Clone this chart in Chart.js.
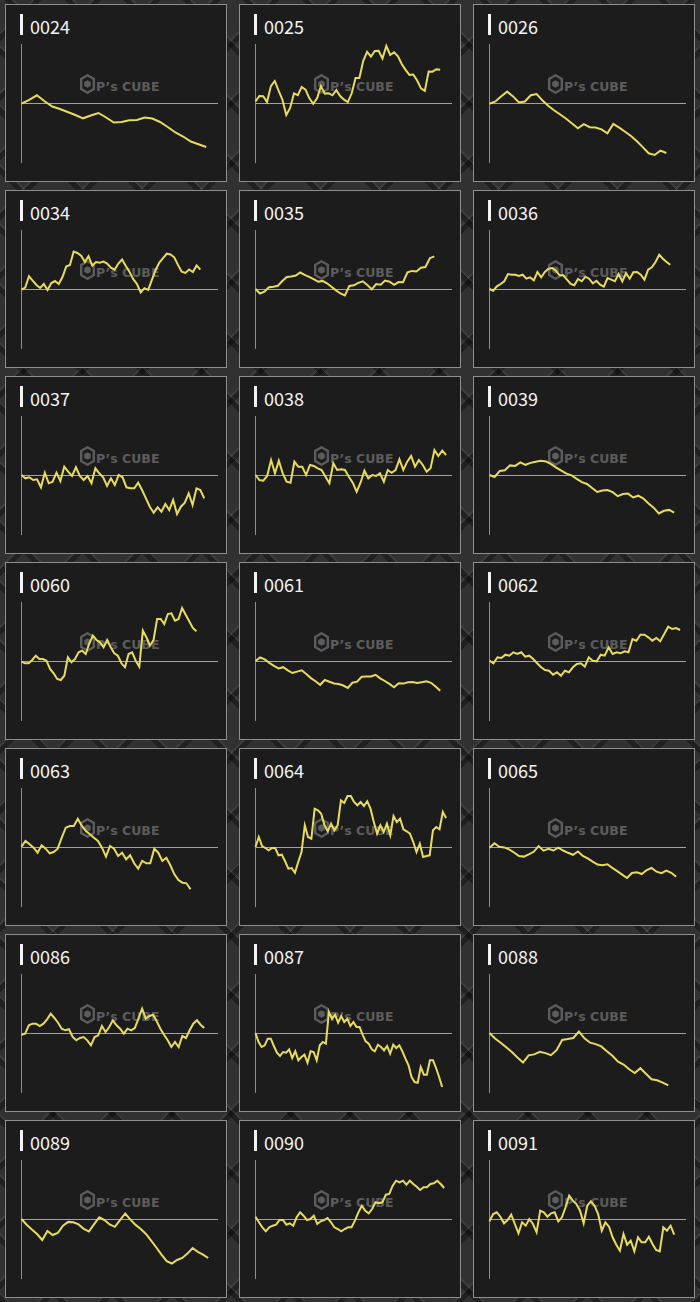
<!DOCTYPE html>
<html>
<head>
<meta charset="utf-8">
<script src="https://cdn.jsdelivr.net/npm/chart.js@4.4.1/dist/chart.umd.min.js"></script>
<style>
  html, body { margin: 0; padding: 0; }
  body {
    width: 700px; height: 1302px; position: relative; overflow: hidden;
    background-color: #313131;
    background-image:
      repeating-linear-gradient(45deg, rgba(0,0,0,.35) 0 5px, rgba(255,255,255,.05) 5px 7px, transparent 7px 42px),
      repeating-linear-gradient(-45deg, rgba(0,0,0,.35) 0 5px, rgba(255,255,255,.05) 5px 7px, transparent 7px 42px);
  }
  .panel {
    position: absolute; width: 220px; height: 176px;
    background: #1c1c1c; border: 1px solid #8f8f8f;
  }
  .title {
    position: absolute; left: 24px; top: 11.5px;
    font: 18px/18px "Noto Sans CJK JP", "Noto Sans", sans-serif; color: #f4f4f4;
  }
  .title::before {
    content: ""; position: absolute; left: -10px; top: -3px; width: 3px; height: 21px; background: #f4f4f4;
  }
  .mark svg { position: absolute; left: 74px; top: 69px; }
  .mark span {
    position: absolute; left: 90px; top: 75.5px; white-space: nowrap;
    font: bold 12.5px/12.5px "DejaVu Sans", sans-serif; color: #5c5c5c;
  }
  .plot { position: absolute; left: 9px; top: 33px; width: 210px; height: 130px; }
</style>
</head>
<body>
<script>
// fund codes, one small chart each (3 per row)
const codes = ["0024", "0025", "0026", "0034", "0035", "0036", "0037", "0038", "0039",
  "0060", "0061", "0062", "0063", "0064", "0065", "0086", "0087", "0088", "0089", "0090", "0091"];

// change from start of period (chart units)
const s0024 = [-0.7, 3.2, 7.7, 1.7, -3.5, -6, -9, -12, -15.3, -12.5, -10, -14.5, -19.5, -19, -17.2, -17, -14.5, -15.5, -19, -24, -29.5, -33.5, -38.5, -41.3, -44];
const s0025 = [1.7, 7, 6.8, 1, 16.9, 22, 12.3, 3.3, -12, -5, 9.7, 7.9, 16.1, 13.3, 4.7, -0.8, 4.7, 16.9, 9.4, 9.8, 7.7, 12.9, 7, 3.3, 0.9, 9.7, 25, 25, 42.2, 51.2, 46.5, 52, 52.3, 44.5, 57, 48, 50.7, 46.9, 39, 33.2, 28.1, 28.5, 22.5, 14.6, 12.1, 31.5, 31.3, 33.8, 33.3];
const s0026 = [-0.7, 1.5, 6.7, 11.4, 6.6, 0.5, 1.5, 7.8, 9, 2.4, -3, -7.5, -11.5, -15.8, -20.5, -25.2, -21.1, -24.2, -24.5, -26.3, -30.3, -21, -24.7, -28.7, -33, -38.2, -44.1, -50.3, -52, -47.6, -50];
const s0034 = [-0.7, 1.5, 12.7, 8.3, 4, 1, 5, -1, 6, 8, 5, 12, 22.4, 24, 37.4, 36, 33.2, 27.2, 32.8, 23.2, 27, 26.2, 27.4, 25.5, 21.3, 19.3, 25.4, 29.5, 22.9, 17.1, 9.9, 5, -3.5, 0.8, -0.8, 9.1, 19, 26.4, 30.8, 35.3, 34.5, 31.7, 24.1, 17.3, 16.1, 19.5, 17, 23.6, 19.3];
const s0035 = [0, -4.5, -2.7, 1.7, 2.2, 3.2, 8, 12.1, 12.5, 13.4, 16.5, 14.2, 12.2, 9.8, 7.3, 8.1, 5.7, 2.2, -1.4, -4.5, -6.5, 3.1, 3.7, 6.2, 7.7, 4.1, -0.3, 4.9, 4.3, 8.4, 7.3, 4.2, 6.9, 6.8, 16.6, 18.1, 17.6, 21.3, 22, 30.8, 32.7];
const s0036 = [0, -1.7, 2.7, 5, 7.7, 15, 14.3, 14.3, 13, 14.3, 10.3, 11.7, 8.7, 17, 11.7, 17, 20.3, 21, 18.3, 13.7, 13.7, 9.3, 5, 3.7, 10, 7.7, 12.3, 10.3, 5.7, 8.3, 4.3, 2.3, 11, 9.3, 7.7, 15, 7.7, 16, 10.3, 16.7, 17, 14.3, 9.3, 19.3, 21.7, 27, 34.3, 30.3, 27, 24.3];
const s0037 = [0, -3.3, -2.3, -5, -4.3, -12.3, 2.3, -8.3, -6.7, 2.3, -6, 8.3, 3.3, -1, 7.7, -1, -5, -1, -8.3, 6.7, 1.7, -2.3, -11, -3.3, -10, 0, -2.3, -12.3, -13.3, -13.3, -7.7, -15, -23.3, -31.7, -37.7, -32.3, -36.7, -29, -35, -25, -39, -31.7, -27.7, -18.3, -30, -13.3, -15, -23.3];
const s0038 = [0, -5, -5.7, -1, 15, 1.7, 14.3, 1.7, -6.7, -7.7, 13.3, 8.3, 8.3, 0, 10, 9, 6.7, 5, -1.7, -8.3, 11.7, 5, 5.7, 5, -1.7, -7.7, -16.7, -7.7, 4.3, -3.3, 0, -1, 1.7, -6.7, 5, 2.3, 5, 15.7, 5, 13.3, 19, 8.3, 15, 10, 3.3, 6.7, 25, 19, 24.3, 20];
const s0039 = [0, -2, 4.1, 4.7, 9.6, 9.1, 12.6, 10.2, 12.1, 13.3, 14.3, 13.6, 10.9, 7.4, 4.3, 1.3, -0.4, -3.8, -7.2, -9, -13, -17, -15.6, -15.1, -17.1, -21.2, -19, -18.6, -22.5, -20.7, -23.5, -28.5, -32.6, -38.5, -35.8, -34.9, -37.7];
const s0060 = [-0.7, -2.3, -2.3, 1, 5.3, 2, 2, 0.3, -8, -12.3, -18, -19, -14.7, 3.7, -1.3, 2, 8.7, 10.3, 7, 17.7, 25.3, 21, 18.7, 13.7, 21, 13.7, 7.7, 5.3, -2.3, -6.3, 7, 8.7, 0.3, -5.7, 30.3, 23.7, 15.3, 21, 42, 42, 37, 47, 47.7, 40.3, 42, 53, 46.3, 39.7, 33, 29.7];
const s0061 = [0, 3.5, 1.6, -1.9, -4.9, -7.4, -6.2, -9.4, -12, -10.6, -9.3, -13.1, -17.1, -20.3, -23.8, -19, -20.7, -22.5, -23, -24.5, -27, -21.7, -20.7, -15.8, -15.4, -15.4, -13.8, -17.4, -20, -22.9, -26.3, -22.3, -22.6, -21.2, -21.1, -22.1, -21.2, -20.3, -21.8, -25.4, -29.7];
const s0062 = [0.3, -2.3, 3.7, 3, 6.3, 5.3, 8.7, 7, 8.7, 4.3, 5.3, 2, -2.3, -6.3, -9, -9.7, -13.7, -11.3, -14.7, -9.7, -11.3, -6.3, -3, -2.3, -5.7, 3.7, 0.3, -0.3, 6.3, 5.3, 13.7, 7, 8.7, 7.7, 9.7, 8.7, 22, 20.3, 26.3, 26.3, 23.7, 20.3, 23, 19.7, 27, 34.3, 32, 33, 31];
const s0063 = [0.3, 6, 2.7, -0.7, -5.7, 1.7, -1.7, -6.3, -5, -1.7, 9.3, 19.3, 21, 21, 28.3, 21, 16, 12.7, 9.3, 6, -0.7, -9.7, 1, -1.7, -9, -5.7, -12.3, -8.3, -16.3, -21.7, -14, -16.3, -16.3, -1.7, -5.7, -14, -10.7, -18.3, -27.3, -33, -35.7, -36.3, -42.3];
const s0064 = [0, 10, 1, -1, -3.3, -1, -1, -8.3, -7.7, -14.3, -21.7, -21, -25.7, -15, -5, 21.7, 10, 8.3, 38.3, 36.7, 33.3, 21.7, 15.7, 23.3, 16.7, 21.7, 46.7, 44, 51, 51, 45, 41.7, 45, 41, 45.7, 38.3, 25, 13.3, 21.7, 15, 23.3, 11.7, 31, 25, 28.3, 17.7, 15.7, 13.3, 5, -5, 3.3, -10, -9, -8.3, 16.7, 20, 17.7, 35, 29];
const s0065 = [-0.7, 3.7, 0.3, -0.4, -2.4, -5.5, -9, -9.6, -7.3, -4.8, 0.9, -3.7, -1.8, -3.5, -0.7, -3.5, -5.8, -7.8, -4.5, -9, -11.4, -14.7, -17.5, -18.2, -17.3, -20.9, -24.1, -27.6, -31, -26, -25.2, -27, -23, -21, -24.7, -26.2, -23.5, -25.8, -29.7];
const s0086 = [-1.7, -0.7, 7.7, 9.3, 9.3, 7, 9.3, 13.7, 19.3, 15, 10.3, 4.3, 2.7, 3.7, -4, -7.3, -5, -4, -7.3, -12.3, -4, -2.3, 7, 1, 6, 12.7, 7.7, 4.3, -0.7, 4.3, 2.7, 5, 14.3, 24.3, 14.3, 17, 18.3, 11.7, 4.3, -1.7, -7.3, -14, -9, -14, -3, -5, 2.7, 9.3, 12.7, 8.3, 5];
const s0087 = [0, -9, -14, -12.3, -5.7, -5.7, -13, -19.7, -23, -19, -19.7, -16.3, -25, -18.3, -27.3, -24, -21.7, -29.7, -18.3, -19, -27.3, -12.3, -9, -10.7, 21, 14.3, 18.3, 10.3, 17, 11, 14.3, 7, 11, 6, 6, -1.7, -8.3, -10.7, -16.3, -18.3, -11.7, -14, -17.3, -13, -20.7, -11.7, -15, -12.3, -18.3, -25.7, -32.3, -44, -49, -49.7, -34, -41.7, -41.7, -27.3, -27.3, -35, -44, -54];
const s0088 = [0, -5.5, -9.7, -14.3, -19.1, -24.5, -29.5, -22.3, -21.4, -18.8, -20.1, -22.2, -17.2, -7, -6.1, -5, 1.5, -5.4, -9.7, -11.1, -13.4, -18.2, -22.8, -28.7, -31.5, -36.3, -40, -35.2, -40.8, -46.3, -47.3, -49.6, -52.3];
const s0089 = [0, -5.7, -10.5, -15, -21, -12, -16, -14, -6.7, -2.9, -3.3, -5.4, -9.8, -12.5, -5.1, 1.7, -1.1, -5.5, -7.8, -1.2, 5.5, -0.6, -5.9, -10, -15, -21.7, -28.5, -35.6, -42.1, -44.5, -41, -39, -34.6, -29, -32.8, -35.6, -39];
const s0090 = [2.3, -3.3, -8.3, -12.3, -8.3, -6.7, -5.7, -1, -1, -5.7, -4.3, -6.7, 1.7, 6.7, 3.3, -1, 0, 3.3, -5, -2.3, -1, 1, -3.3, -8.3, -10, -12.3, -10, -8.3, -8.3, -1.7, 6.7, 13.3, 8.3, 5.7, 10, 16.7, 15.7, 16.7, 24.3, 25, 33.3, 38.3, 36.7, 38.3, 34.3, 38.3, 35, 32.3, 29, 31.7, 31.7, 35, 35.7, 38.3, 35, 31];
const s0091 = [-2.3, 5, 6.7, 2.3, -4.3, -1, 4.3, -5, -14.3, -3.3, -6.7, 0, -5, -13.3, 8.3, 6.7, 2.3, 5.7, 6.7, -2.3, 1.7, 11.7, 23.3, 18.3, 15, 8.3, -4.3, 13.3, 17.7, 13.3, 5, -11.7, -3.3, -7.7, -18.3, -25.7, -31.7, -15, -25.7, -21.7, -32.3, -18.3, -23.3, -23.3, -17.7, -25, -31, -32.3, -8.3, -11.7, -6.7, -15.7];

const series = [s0024, s0025, s0026, s0034, s0035, s0036, s0037, s0038, s0039,
  s0060, s0061, s0062, s0063, s0064, s0065, s0086, s0087, s0088, s0089, s0090, s0091];

// how far into the 100-day window each series runs
const endDay = [94, 94, 90, 91, 91, 92, 93, 97, 94, 89, 94, 97, 86, 97, 95, 93, 95, 91, 95, 96, 94];

const WINDOW = 100;
const Y_LIMIT = 59;

const LOGO = '<svg width="15" height="20" viewBox="0 0 15 20">' +
  '<path d="M7.5 1.3 L13.8 4.9 L13.8 15.1 L7.5 18.7 L1.2 15.1 L1.2 4.9 Z" fill="none" stroke="#5c5c5c" stroke-width="2.4"/>' +
  '<path d="M7.5 6.2 L10.8 8 L10.8 11.9 L7.5 13.8 L4.2 11.9 L4.2 8 Z" fill="#5c5c5c"/></svg>';

codes.forEach((code, i) => {
  const col = i % 3;
  const row = Math.floor(i / 3);
  const panel = document.createElement("div");
  panel.className = "panel";
  panel.style.left = (5 + col * 234) + "px";
  panel.style.top = (4 + row * 186) + "px";
  panel.innerHTML =
    '<div class="title">' + code + '</div>' +
    '<div class="mark">' + LOGO + '<span>P\u2019s CUBE</span></div>' +
    '<div class="plot"><canvas width="210" height="130"></canvas></div>';
  document.body.appendChild(panel);

  const values = series[i];
  const step = endDay[i] / (values.length - 1);

  new Chart(panel.querySelector("canvas"), {
    type: "line",
    data: {
      datasets: [{
        data: values.map((v, k) => ({ x: k * step, y: v })),
        borderColor: "#e8dc5c",
        borderWidth: 2,
        pointRadius: 0,
        tension: 0,
        clip: false,
      }],
    },
    options: {
      responsive: false,
      animation: false,
      devicePixelRatio: 1,
      layout: { padding: { left: 6.5, right: 7, top: 6, bottom: 6 } },
      plugins: { legend: { display: false }, tooltip: { enabled: false } },
      scales: {
        x: { type: "linear", min: 0, max: WINDOW, display: false },
        y: {
          min: -Y_LIMIT,
          max: Y_LIMIT,
          ticks: { display: false, stepSize: Y_LIMIT },
          grid: {
            drawTicks: false,
            color: (c) => (c.tick && c.tick.value === 0 ? "#a3a3a3" : "transparent"),
          },
          border: { display: true, color: "#8e8e8e", width: 1 },
        },
      },
    },
  });
});
</script>
</body>
</html>
